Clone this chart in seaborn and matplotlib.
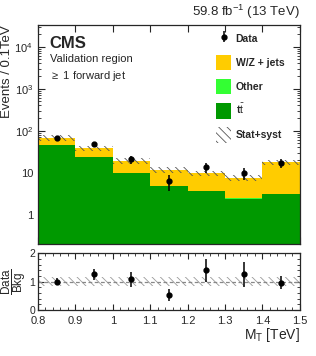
import numpy as np
import pandas as pd
import seaborn as sns
import matplotlib
matplotlib.use("Agg")
import matplotlib.pyplot as plt
from matplotlib.patches import Patch
from matplotlib.ticker import MultipleLocator, LogLocator, NullFormatter

# Binning of M_T in TeV
edges = [0.8, 0.9, 1.0, 1.1, 1.2, 1.3, 1.4, 1.5]
centers = [0.85, 0.95, 1.05, 1.15, 1.25, 1.35, 1.45]

# Stacked backgrounds (events / 0.1 TeV)
ttbar = [46, 23, 9.6, 4.7, 3.6, 2.4, 3.1]
other = [0.3, 0.2, 0.1, 0.05, 0.05, 0.04, 0.05]
wzjets = [20.7, 14.8, 9.3, 6.95, 5.95, 5.16, 14.55]
bkg_err = [10, 5.7, 2.9, 1.8, 1.45, 1.15, 2.65]

# Observed data
data = [68, 48, 20.7, 6.2, 13.4, 9.6, 17]
data_err = [8.2, 6.9, 4.5, 2.5, 3.7, 3.1, 4.1]

# Ratio panel
ratio = [1.0, 1.25, 1.08, 0.53, 1.4, 1.26, 0.96]
ratio_err = [0.11, 0.18, 0.26, 0.21, 0.4, 0.44, 0.22]
ratio_band = [0.15, 0.15, 0.15, 0.15, 0.15, 0.15, 0.15]

labels = ["W/Z + jets", "Other", r"t$\bar{\mathrm{t}}$"]
colors = ["#ffcc00", "#33ff33", "#009900"]

sns.set_style("ticks")
plt.rcParams["font.family"] = ["Liberation Sans", "DejaVu Sans"]
plt.rcParams["mathtext.fontset"] = "custom"
plt.rcParams["mathtext.rm"] = "Liberation Sans"
plt.rcParams["mathtext.it"] = "Liberation Sans:italic"
plt.rcParams["mathtext.bf"] = "Liberation Sans:bold"
plt.rcParams["hatch.linewidth"] = 0.6

rows = []
for name, vals in zip(labels, [wzjets, other, ttbar]):
    for c, v in zip(centers, vals):
        rows.append({"mt": c, "events": v, "process": name})
df = pd.DataFrame(rows)

fig = plt.figure(figsize=(3.16, 3.56), dpi=100)
ax = fig.add_axes([0.120, 0.315, 0.829, 0.615])
rax = fig.add_axes([0.120, 0.129, 0.829, 0.160])

sns.histplot(data=df, x="mt", weights="events", hue="process", hue_order=labels,
             palette=colors, multiple="stack", bins=edges, element="bars",
             linewidth=0, alpha=1, legend=False, ax=ax)
ax.set_yscale("log")

tot = np.array(ttbar) + np.array(other) + np.array(wzjets)
err = np.array(bkg_err)
ax.bar(centers, 2 * err, bottom=tot - err, width=0.1, fill=False,
       hatch="\\\\\\\\", edgecolor="#555555", linewidth=0)
data_h = ax.errorbar(centers, data, yerr=data_err, fmt="o", color="black", ms=3.5,
                     elinewidth=1.1, capsize=0)

ax.set_xlim(0.8, 1.5)
ax.set_ylim(0.2, 3.3e4)
ax.set_xlabel("")
ax.set_ylabel("Events / 0.1TeV", fontsize=9.5, loc="top", labelpad=1)
ax.xaxis.set_major_locator(MultipleLocator(0.1))
ax.xaxis.set_minor_locator(MultipleLocator(0.1))
ax.set_xticklabels([])
ax.yaxis.set_minor_locator(LogLocator(base=10, subs=np.arange(2, 10), numticks=20))
ax.yaxis.set_minor_formatter(NullFormatter())
ax.set_yticks([1, 10, 100, 1000, 10000])
ax.set_yticklabels(["1", "10", r"10$^{2}$", r"10$^{3}$", r"10$^{4}$"])
ax.tick_params(which="both", direction="in", top=True, right=True, labelsize=8)
ax.tick_params(which="major", length=5)
ax.tick_params(which="minor", length=2.5)
for s in ax.spines.values():
    s.set_linewidth(0.9)

ax.text(0.045, 0.95, "CMS", transform=ax.transAxes, fontsize=12, fontweight="bold",
        va="top")
ax.text(0.045, 0.865, "Validation region", transform=ax.transAxes, fontsize=8, va="top")
ax.text(0.045, 0.80, r"$\geq$ 1 forward jet", transform=ax.transAxes, fontsize=8, va="top")
ax.text(1.0, 1.02, r"59.8 fb$^{-1}$ (13 TeV)", transform=ax.transAxes, fontsize=9.5,
        ha="right", va="bottom")

handles = [data_h,
           Patch(facecolor=colors[0], edgecolor="none"),
           Patch(facecolor=colors[1], edgecolor="none"),
           Patch(facecolor=colors[2], edgecolor="none"),
           Patch(facecolor="none", edgecolor="#555555", hatch="\\\\\\\\", linewidth=0)]
leg_labels = ["Data", "W/Z + jets", "Other", r"t$\bar{\mathrm{t}}$", "Stat+syst"]
leg = ax.legend(handles, leg_labels, loc="upper left", bbox_to_anchor=(0.655, 1.0),
                frameon=False, fontsize=7.5, handlelength=1.5, handleheight=1.9,
                labelspacing=0.8, handletextpad=0.4, borderaxespad=0.2)
for t in leg.get_texts():
    t.set_fontweight("bold")

# Ratio panel
rax.bar(centers, [2 * b for b in ratio_band], bottom=[1 - b for b in ratio_band],
        width=0.1, fill=False, hatch="\\\\\\\\", edgecolor="#999999", linewidth=0)
rax.axhline(1, color="#888888", lw=0.9, ls=(0, (3, 2)))
rax.errorbar(centers, ratio, yerr=ratio_err, fmt="o", color="black", ms=3.5,
             elinewidth=1.1, capsize=0)
rax.set_xlim(0.8, 1.5)
rax.set_ylim(0, 2)
rax.xaxis.set_minor_locator(MultipleLocator(0.02))
rax.yaxis.set_major_locator(MultipleLocator(1))
rax.yaxis.set_minor_locator(MultipleLocator(0.2))
rax.set_xticks(edges)
rax.set_xticklabels(["0.8", "0.9", "1", "1.1", "1.2", "1.3", "1.4", "1.5"])
rax.tick_params(which="both", direction="in", top=True, right=True)
rax.tick_params(axis="x", labelsize=8, pad=4)
rax.tick_params(axis="y", labelsize=7.5, pad=2)
rax.tick_params(which="major", length=4)
rax.tick_params(which="minor", length=2)
for s in rax.spines.values():
    s.set_linewidth(0.9)
rax.set_ylabel(r"$\dfrac{\mathrm{Data}}{\mathrm{Bkg}}$", fontsize=8.5, labelpad=1)
rax.set_xlabel(r"M$_{\mathrm{T}}$ [TeV]", fontsize=10, loc="right", labelpad=0)

fig.savefig("out.png", dpi=100)
